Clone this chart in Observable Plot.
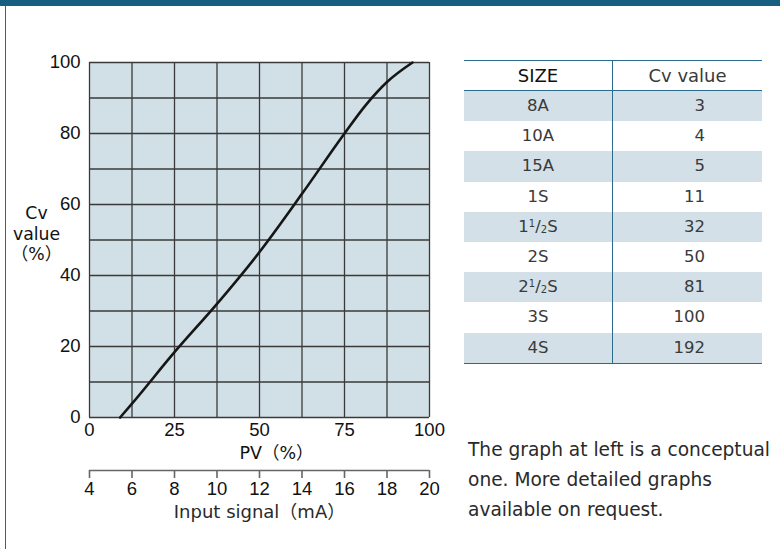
<!DOCTYPE html>
<html>
<head>
<meta charset="utf-8">
<script src="https://cdn.jsdelivr.net/npm/d3@7"></script>
<script src="https://cdn.jsdelivr.net/npm/@observablehq/plot@0.6"></script>
<style>
  html, body { margin: 0; padding: 0; background: #fff; }
  #page { position: relative; width: 780px; height: 549px; overflow: hidden; background: #fff; }
  #topbar { position: absolute; left: 0; top: 0; width: 780px; height: 6px; background: #175e80; }
  #leftbar { position: absolute; left: 4.5px; top: 6px; width: 1.6px; height: 543px; background: #1f6a94; }
  .plotwrap { position: absolute; left: 0; top: 0; }
  #table { position: absolute; left: 464px; top: 60px; width: 298px; border-collapse: collapse;
           font-family: "DejaVu Sans", "Noto Sans CJK JP", sans-serif; color: #3a3a3a; }
  #table th, #table td { padding: 0; height: 30.2px; line-height: 30.2px; }
  #table thead th { height: 29px; line-height: 29px; font-weight: normal; font-size: 18px;
                    border-top: 1.6px solid #2b6c8e; border-bottom: 1.6px solid #2b6c8e; }
  #table thead th.c1 { color: #111; }
  #table td { font-size: 16.5px; }
  #table .c1 { width: 148px; text-align: center; border-right: 1.4px solid #2b6c8e; }
  #table td.c2 { text-align: right; padding-right: 57px; }
  #table th.c2 { text-align: center; }
  #table tbody tr:nth-child(odd) { background: #d3e0e7; }
  #table tbody tr:last-child td { border-bottom: 1.6px solid #2b6c8e; }
  #table sup { font-size: 10px; vertical-align: 5px; line-height: 0; }
  #table sub { font-size: 10px; vertical-align: -1px; line-height: 0; }
  #note { position: absolute; left: 468px; top: 435px; font-family: "DejaVu Sans", "Noto Sans CJK JP", sans-serif;
          font-size: 18.6px; line-height: 30px; color: #2a2a2a; white-space: nowrap; }
</style>
</head>
<body>
<div id="page">
  <div id="topbar"></div>
  <div id="leftbar"></div>
  <div id="main" class="plotwrap"></div>
  <div id="second" class="plotwrap"></div>
  <table id="table"><thead></thead><tbody></tbody></table>
  <div id="note"></div>
</div>
<script>
// ---- data ----
const pv = [9, 12.5, 25, 37.5, 50, 62.5, 75, 81.25, 87.5, 95];
const cv = [0, 3.9, 18.4, 32, 46.6, 63, 80, 88, 94.5, 100];
const xTicks = [0, 25, 50, 75, 100];
const yTicks = [0, 20, 40, 60, 80, 100];
const xGrid = [0, 12.5, 25, 37.5, 50, 62.5, 75, 87.5, 100];
const yGrid = [0, 10, 20, 30, 40, 50, 60, 70, 80, 90, 100];
const mATicks = [4, 6, 8, 10, 12, 14, 16, 18, 20];
const sizes = ["8A", "10A", "15A", "1S", "1<sup>1</sup>/<sub>2</sub>S", "2S", "2<sup>1</sup>/<sub>2</sub>S", "3S", "4S"];
const cvValues = [3, 4, 5, 11, 32, 50, 81, 100, 192];
const tableHeader = ["SIZE", "Cv value"];
const noteLines = ["The graph at left is a conceptual", "one. More detailed graphs", "available on request."];

const curveData = pv.map((x, i) => ({x, y: cv[i]}));
const numFont = "'Liberation Sans', Arial, sans-serif";
const jpFont = "'DejaVu Sans', 'Noto Sans CJK JP', sans-serif";

const main = Plot.plot({
  width: 460, height: 540,
  marginLeft: 89, marginRight: 31, marginTop: 62, marginBottom: 123,
  style: {fontFamily: numFont, fontSize: "18.5px", color: "#111", background: "transparent", overflow: "visible"},
  x: {domain: [0, 100]},
  y: {domain: [0, 100]},
  marks: [
    Plot.frame({fill: "#d1dfe6", stroke: null}),
    Plot.ruleX(xGrid, {stroke: "#3a3a3a", strokeWidth: 1.3}),
    Plot.ruleY(yGrid, {stroke: "#3a3a3a", strokeWidth: 1.3}),
    Plot.line(curveData, {x: "x", y: "y", curve: "monotone-x", stroke: "#161616", strokeWidth: 2.6}),
    Plot.axisY({ticks: yTicks, tickSize: 0, tickPadding: 9, label: null, fontSize: 18.5}),
    Plot.axisX({ticks: xTicks, tickSize: 0, tickPadding: 5, label: null, fontSize: 18.5}),
    Plot.text(["PV（%）"], {frameAnchor: "bottom", dx: 17, dy: 41, fontFamily: jpFont, fontSize: 17.5, fill: "#111"}),
    Plot.text(["Cv\nvalue\n（%）"], {frameAnchor: "left", dx: -53, dy: -7, textAnchor: "middle", lineHeight: 1.19, fontFamily: jpFont, fontSize: 17.3, fill: "#111"})
  ]
});
document.getElementById("main").appendChild(main);

const second = Plot.plot({
  width: 460, height: 549,
  marginLeft: 89, marginRight: 31, marginTop: 400, marginBottom: 79,
  style: {fontFamily: numFont, fontSize: "18.5px", color: "#111", background: "transparent", overflow: "visible"},
  x: {domain: [4, 20]},
  y: {domain: [0, 1], axis: null},
  marks: [
    Plot.ruleY([0], {stroke: "#666", strokeWidth: 1.6}),
    Plot.axisX({ticks: mATicks, tickSize: 8, tickPadding: 3, stroke: "#666", strokeWidth: 1.6, label: null, fontSize: 18.5}),
    Plot.text(["Input signal（mA）"], {frameAnchor: "bottom", dx: 0, dy: 47, fontFamily: jpFont, fontSize: 18, fill: "#2a2a2a"})
  ]
});
document.getElementById("second").appendChild(second);

// table
const thead = document.querySelector("#table thead");
thead.innerHTML = `<tr><th class="c1">${tableHeader[0]}</th><th class="c2">${tableHeader[1]}</th></tr>`;
const tbody = document.querySelector("#table tbody");
tbody.innerHTML = sizes.map((s, i) => `<tr><td class="c1">${s}</td><td class="c2">${cvValues[i]}</td></tr>`).join("");

document.getElementById("note").innerHTML = noteLines.join("<br>");
</script>
</body>
</html>
